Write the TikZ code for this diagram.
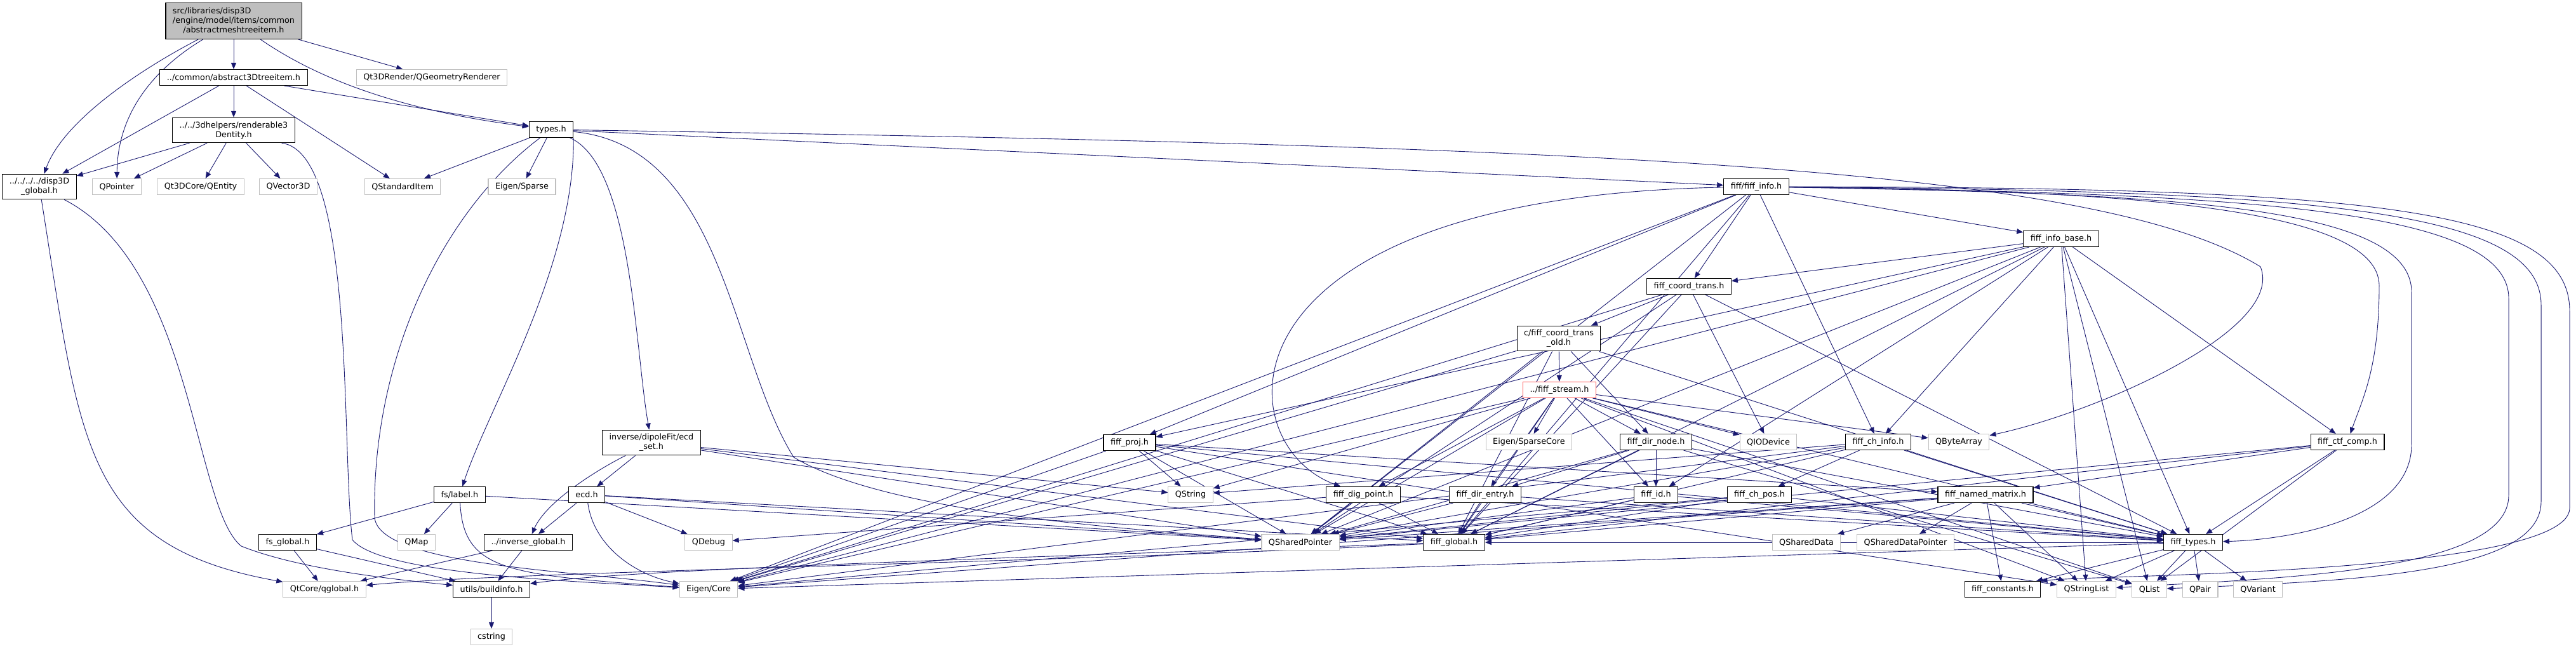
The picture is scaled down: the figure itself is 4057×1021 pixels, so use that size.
\documentclass[tikz,border=0pt]{standalone}
\usepackage{fontspec}
\setmainfont{DejaVu Sans}
\usetikzlibrary{arrows.meta}

\definecolor{edgeblue}{RGB}{25,25,112}
\definecolor{sysgray}{RGB}{191,191,191}
\definecolor{topgray}{RGB}{191,191,191}
\definecolor{cyclered}{RGB}{255,80,80}
\newcommand{\doxfont}{\fontsize{12.8}{15}\selectfont}

\pgfdeclarelayer{edges}
\pgfsetlayers{edges,main}

\tikzset{file/.style={draw=black,fill=white,line width=1.1pt,font=\doxfont,align=center,inner xsep=11pt,inner ysep=6pt,minimum height=25pt}}
\tikzset{sysfile/.style={file,draw=sysgray}}
\tikzset{topfile/.style={file,fill=topgray}}
\tikzset{cycfile/.style={file,draw=cyclered}}
\tikzset{dep/.style={-{Triangle[length=10pt,width=8pt]},color=edgeblue,line width=0.9pt}}

\begin{document}
\begin{tikzpicture}[x=1pt,y=-1pt]
        \useasboundingbox (0,0) rectangle (4057,1021);
        % disp3D part
        \node[topfile] (meshitem) at (368,33) {\begin{tabular}{@{}l@{}}src/libraries/disp3D\\/engine/model/items/common\\\multicolumn{1}{@{}c@{}}{/abstractmeshtreeitem.h}\end{tabular}};
        \node[file] (atree) at (368,122) {../common/abstract3Dtreeitem.h};
        \node[sysfile] (qgeom) at (680,122) {Qt3DRender/QGeometryRenderer};
        \node[file] (rent) at (368,205) {../../3dhelpers/renderable3\\Dentity.h};
        \node[file] (types) at (868,204) {types.h};
        \node[file] (dglobal) at (62,294) {../../../../disp3D\\\_global.h};
        \node[sysfile] (qpointer) at (184,294) {QPointer};
        \node[sysfile] (qentity) at (316,294) {Qt3DCore/QEntity};
        \node[sysfile] (qvector) at (454,294) {QVector3D};
        \node[sysfile] (qstditem) at (634,294) {QStandardItem};
        \node[sysfile] (esparse) at (822,294) {Eigen/Sparse};
        % fiff part
        \node[file] (finfo) at (2766,294) {fiff/fiff\_info.h};
        \node[file] (finfobase) at (3246,376) {fiff\_info\_base.h};
        \node[file] (fcoord) at (2660,451) {fiff\_coord\_trans.h};
        \node[file] (fcoordold) at (2455,533) {c/fiff\_coord\_trans\\\_old.h};
        \node[cycfile] (fstream) at (2456,614) {../fiff\_stream.h};
        \node[file] (ecdset) at (1026,697) {inverse/dipoleFit/ecd\\\_set.h};
        \node[file] (fproj) at (1779,697) {fiff\_proj.h};
        \node[sysfile] (esparsecore) at (2408,696) {Eigen/SparseCore};
        \node[file] (fdirnode) at (2608,696) {fiff\_dir\_node.h};
        \node[sysfile] (qiodevice) at (2785,696) {QIODevice};
        \node[file] (fchinfo) at (2958,696) {fiff\_ch\_info.h};
        \node[sysfile] (qbytearray) at (3085,696) {QByteArray};
        \node[file] (fctfcomp) at (3697,696) {fiff\_ctf\_comp.h};
        \node[file] (label) at (724,779) {fs/label.h};
        \node[file] (ecd) at (924,779) {ecd.h};
        \node[sysfile] (qstring) at (1875,779) {QString};
        \node[file] (fdigpoint) at (2147,779) {fiff\_dig\_point.h};
        \node[file] (fdirentry) at (2339,779) {fiff\_dir\_entry.h};
        \node[file] (fid) at (2608,779) {fiff\_id.h};
        \node[file] (fchpos) at (2771,779) {fiff\_ch\_pos.h};
        \node[file] (fnamed) at (3127,779) {fiff\_named\_matrix.h};
        \node[file] (fsglobal) at (453,854) {fs\_global.h};
        \node[sysfile] (qmap) at (656,854) {QMap};
        \node[file] (invglobal) at (832,854) {../inverse\_global.h};
        \node[sysfile] (qdebug) at (1116,854) {QDebug};
        \node[sysfile] (qsharedptr) at (2048,854) {QSharedPointer};
        \node[file] (fglobal) at (2290,854) {fiff\_global.h};
        \node[sysfile] (qshareddata) at (2845,854) {QSharedData};
        \node[sysfile] (qshareddataptr) at (3001,854) {QSharedDataPointer};
        \node[file] (ftypes) at (3454,854) {fiff\_types.h};
        \node[sysfile] (qglobal) at (511,928) {QtCore/qglobal.h};
        \node[file] (buildinfo) at (774,928) {utils/buildinfo.h};
        \node[sysfile] (eigencore) at (1116,928) {Eigen/Core};
        \node[file] (fconstants) at (3154,928) {fiff\_constants.h};
        \node[sysfile] (qstringlist) at (3286,928) {QStringList};
        \node[sysfile] (qlist) at (3385,928) {QList};
        \node[sysfile] (qpair) at (3465,928) {QPair};
        \node[sysfile] (qvariant) at (3556,928) {QVariant};
        \node[sysfile] (cstring) at (774,1003) {cstring};

        \begin{pgfonlayer}{edges}
        % straight includes
        \foreach \a/\b in {meshitem/atree, meshitem/qgeom,
                atree/rent, atree/dglobal, atree/qstditem, atree/types,
                rent/dglobal, rent/qpointer, rent/qentity, rent/qvector,
                types/qstditem, types/esparse, types/finfo,
                ecdset/ecd, ecdset/qstring, ecdset/qsharedptr, ecdset/fglobal,
                ecd/invglobal, ecd/qdebug, ecd/qsharedptr, ecd/fglobal,
                label/fsglobal, label/qmap, label/qsharedptr,
                fsglobal/qglobal, fsglobal/buildinfo, invglobal/qglobal, invglobal/buildinfo, buildinfo/cstring,
                finfo/finfobase, finfo/fcoord, finfo/fchinfo, finfo/fproj, finfo/fglobal, finfo/qsharedptr, finfo/eigencore,
                finfobase/fcoord, finfobase/fchinfo, finfobase/fid, finfobase/fproj, finfobase/fctfcomp, finfobase/ftypes,
                finfobase/fglobal, finfobase/qsharedptr, finfobase/eigencore, finfobase/qstringlist, finfobase/qlist,
                fcoord/fcoordold, fcoord/qiodevice, fcoord/ftypes, fcoord/qsharedptr, fcoord/fglobal, fcoord/eigencore,
                fcoordold/fstream, fcoordold/fdirnode, fcoordold/ftypes, fcoordold/qsharedptr, fcoordold/fglobal, fcoordold/eigencore,
                fstream/esparsecore, fstream/fdirnode, fstream/qiodevice, fstream/qbytearray, fstream/fdirentry, fstream/fid,
                fstream/fglobal, fstream/qsharedptr, fstream/qstring, fstream/qstringlist, fstream/qlist, fstream/ftypes,
                fstream/eigencore, fstream/fdigpoint,
                fdirnode/fdirentry, fdirnode/fid, fdirnode/fglobal, fdirnode/qsharedptr, fdirnode/ftypes, fdirnode/qlist,
                fchinfo/fchpos, fchinfo/ftypes, fchinfo/fglobal, fchinfo/qsharedptr, fchinfo/eigencore, fchinfo/qstring,
                fctfcomp/fnamed, fctfcomp/ftypes, fctfcomp/qsharedptr, fctfcomp/fglobal, fctfcomp/qlist,
                fproj/qstring, fproj/fnamed, fproj/ftypes, fproj/qsharedptr, fproj/fglobal, fproj/eigencore, fproj/qstringlist,
                fdigpoint/qsharedptr, fdigpoint/fglobal, fdigpoint/ftypes, fdigpoint/qdebug,
                fdirentry/fglobal, fdirentry/qsharedptr, fdirentry/ftypes,
                fid/fglobal, fid/qsharedptr, fid/ftypes,
                fchpos/fglobal, fchpos/qsharedptr, fchpos/ftypes, fchpos/eigencore,
                fnamed/qshareddata, fnamed/qshareddataptr, fnamed/fconstants, fnamed/qstringlist, fnamed/ftypes,
                fnamed/fglobal, fnamed/qsharedptr, fnamed/eigencore,
                ftypes/fconstants, ftypes/qstringlist, ftypes/qlist, ftypes/qpair, ftypes/qvariant, ftypes/fglobal, ftypes/eigencore}
            \draw[dep] (\a) -- (\b);
        % curved includes on the left
        \draw[dep] (meshitem) .. controls (480,110) and (600,170) .. (types);
        \draw[dep] (meshitem) .. controls (220,110) and (100,190) .. (dglobal);
        \draw[dep] (meshitem) .. controls (240,110) and (185,180) .. (qpointer);
        \draw[dep] (dglobal) .. controls (127,700) and (130,860) .. (qglobal);
        \draw[dep] (dglobal) .. controls (305,420) and (305,800) .. (380,860) .. controls (480,900) and (650,915) .. (buildinfo);
        \draw[dep] (rent.345) .. controls (560,240) and (537,700) .. (555,850) .. controls (600,905) and (900,915) .. (eigencore);
        \draw[dep] (types) .. controls (700,330) and (585,560) .. (590,815) .. controls (597,890) and (900,898) .. (eigencore);
        \draw[dep] (types.south east) .. controls (905,420) and (770,640) .. (label);
        \draw[dep] (types) .. controls (995,260) and (1000,550) .. (ecdset);
        \draw[dep] (types) .. controls (1140,230) and (1150,560) .. (1250,720) .. controls (1400,810) and (1800,835) .. (qsharedptr);
        \draw[dep] (types) .. controls (2500,230) and (3300,260) .. (3560,420) .. controls (3600,520) and (3300,650) .. (qbytearray);
        \draw[dep] (label) .. controls (730,900) and (800,905) .. (eigencore);
        \draw[dep] (ecdset) .. controls (940,740) and (860,790) .. (invglobal);
        \draw[dep] (ecd) .. controls (935,860) and (1000,905) .. (eigencore);
        \draw[dep] (fglobal) .. controls (1700,885) and (800,900) .. (qglobal);
        \draw[dep] (fglobal) .. controls (1700,875) and (1000,895) .. (buildinfo);
        \draw[dep] (finfo) .. controls (1900,310) and (1930,700) .. (fdigpoint);
        % loops round the right side
        \draw[dep] (finfo) .. controls (3300,300) and (3747,320) .. (3747,450) .. controls (3747,580) and (3720,630) .. (fctfcomp);
        \draw[dep] (finfo) .. controls (3400,305) and (3798,320) .. (3798,460) -- (3798,700) .. controls (3798,820) and (3600,850) .. (ftypes);
        \draw[dep] (finfo) .. controls (3550,305) and (3951,330) .. (3951,470) -- (3951,780) .. controls (3951,900) and (3600,910) .. (qstringlist);
        \draw[dep] (finfo) .. controls (3650,300) and (4002,330) .. (4002,480) -- (4002,790) .. controls (4002,905) and (3700,915) .. (qlist);
        \draw[dep] (finfo) .. controls (3750,295) and (4047,330) .. (4047,490) -- (4047,800) .. controls (4047,905) and (3300,905) .. (fconstants.north east);
        \end{pgfonlayer}
\end{tikzpicture}
\end{document}
